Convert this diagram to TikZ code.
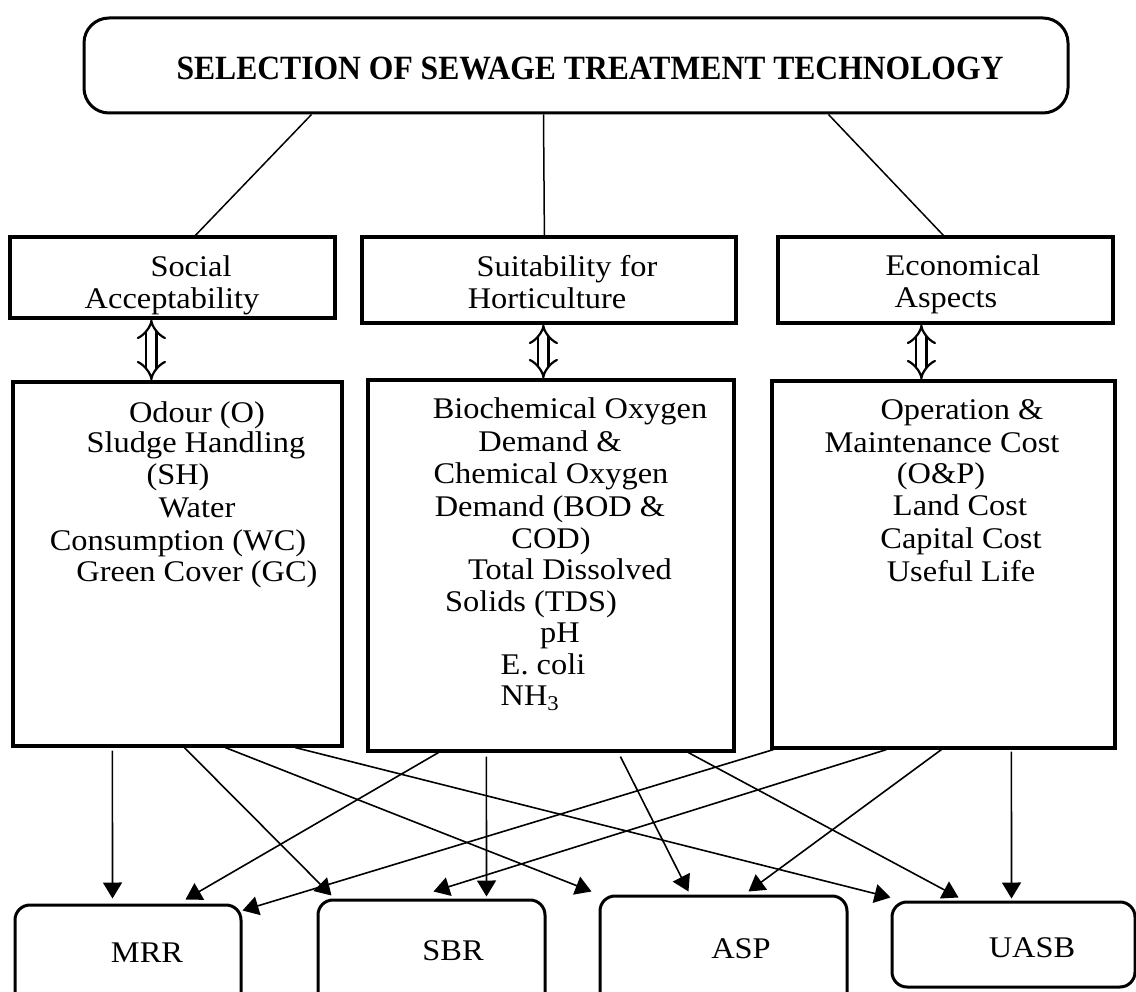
\documentclass[tikz,border=0pt]{standalone}
\usepackage{fontspec}
\setmainfont{Liberation Serif}[FakeStretch=1.08]
\newfontfamily\titlefont{Liberation Serif}[FakeStretch=0.93]
\usetikzlibrary{arrows.meta,calc}
\begin{document}
\begin{tikzpicture}[x=1pt,y=-1pt,
  every node/.style={font=\fontsize{30}{31}\selectfont},
  txt/.style={anchor=base, inner sep=0pt},
  box/.style={draw, line width=3.2pt, inner sep=0pt},
  rbox/.style={box, line width=3pt, rounded corners=15pt},
  link/.style={line width=1.5pt},
  arr/.style={line width=1.6pt, -{Triangle[width=19pt,length=16pt]}},
  dbl/.style={double, double distance=8pt, line width=2.2pt, {Implies[length=14pt,width=30pt]}-{Implies[length=14pt,width=30pt]}}
]
\useasboundingbox (0,0) rectangle (1136,992);
\clip (0,0) rectangle (1136,992);

% top box
\node[box, line width=3pt, rounded corners=25pt, minimum width=984pt, minimum height=95pt] (top) at (576,65.5) {};
\node[txt, font=\titlefont\fontsize{34}{36}\selectfont\bfseries] (title) at (590,79.5) {SELECTION OF SEWAGE TREATMENT TECHNOLOGY};

% category boxes
\node[box, minimum width=325pt, minimum height=81pt] (S) at (172.5,277.5) {};
\node[txt] (s1) at (191,277) {Social};
\node[txt] (s2) at (172,309) {Acceptability};
\node[box, minimum width=374pt, minimum height=86pt] (H) at (549,280) {};
\node[txt] (h1) at (567,277) {Suitability for};
\node[txt] (h2) at (547,309) {Horticulture};
\node[box, minimum width=335pt, minimum height=86pt] (E) at (945.5,280) {};
\node[txt] (e1) at (963,276) {Economical};
\node[txt] (e2) at (946,308) {Aspects};

% criteria boxes
\node[box, minimum width=329pt, minimum height=364pt] (A) at (177.5,564) {};
\node[txt] (a1) at (197,422) {Odour (O)};
\node[txt] (a2) at (196,453) {Sludge Handling};
\node[txt] (a3) at (178,484) {(SH)};
\node[txt] (a4) at (197,517) {Water};
\node[txt] (a5) at (178,550) {Consumption (WC)};
\node[txt] (a6) at (197,581) {Green Cover (GC)};

\node[box, minimum width=366pt, minimum height=371pt] (B) at (551,565.5) {};
\node[txt] (b1) at (570,418) {Biochemical Oxygen};
\node[txt] (b2) at (550,451) {Demand \&};
\node[txt] (b3) at (551,483) {Chemical Oxygen};
\node[txt] (b4) at (550,516) {Demand (BOD \&};
\node[txt] (b5) at (551,548) {COD)};
\node[txt] (b6) at (570,579) {Total Dissolved};
\node[txt] (b7) at (531,611) {Solids (TDS)};
\node[txt] (b8) at (560,642) {pH};
\node[txt] (b9) at (543,674) {E. coli};
\node[txt] (b10) at (530,705) {NH\textsubscript{3}};

\node[box, minimum width=343pt, minimum height=367pt] (C) at (943.5,564.5) {};
\node[txt] (c1) at (962,420) {Operation \&};
\node[txt] (c2) at (942,452) {Maintenance Cost};
\node[txt] (c3) at (941,483) {(O\&P)};
\node[txt] (c4) at (960,515) {Land Cost};
\node[txt] (c5) at (961,548) {Capital Cost};
\node[txt] (c6) at (961,581) {Useful Life};

% technology boxes
\node[rbox, minimum width=226pt, minimum height=105pt] (MRR) at (128,957.5) {};
\node[txt] (mrr) at (147,962) {MRR};
\node[rbox, minimum width=227pt, minimum height=110pt] (SBR) at (431.5,955) {};
\node[txt] (sbr) at (453,960) {SBR};
\node[rbox, minimum width=247pt, minimum height=114pt] (ASP) at (723.5,953) {};
\node[txt] (asp) at (741,958) {ASP};
\node[rbox, minimum width=243pt, minimum height=85pt] (UASB) at (1013.5,944.5) {};
\node[txt] (uasb) at (1032,957) {UASB};

% top links
\draw[link] ([xshift=229pt]top.south west) -- ([xshift=187pt]S.north west);
\draw[link] ([xshift=461pt]top.south west) -- ([xshift=184pt]H.north west);
\draw[link] ([xshift=746pt]top.south west) -- ([xshift=167pt]E.north west);

% double arrows
\draw[dbl] ([xshift=143pt]S.south west) -- ([xshift=140pt]A.north west);
\draw[dbl] ([xshift=183pt]H.south west) -- ([xshift=177pt]B.north west);
\draw[dbl] ([xshift=145pt]E.south west) -- ([xshift=151pt]C.north west);

% arrows from A
\draw[arr] ([xshift=101pt,yshift=-3pt]A.south west) -- ([xshift=99pt,yshift=5pt]MRR.north west);
\draw[arr] ([xshift=173pt]A.south west) -- ([xshift=15pt,yshift=3pt]SBR.north west);
\draw[arr] ([xshift=214pt]A.south west) -- ([xshift=-7pt,yshift=3pt]ASP.north west);
\draw[arr] ([xshift=284pt]A.south west) -- ([yshift=3pt]UASB.north west);
% arrows from B
\draw[arr] ([xshift=72pt]B.south west) -- ([xshift=172pt,yshift=4pt]MRR.north west);
\draw[arr] ([xshift=120pt,yshift=-4pt]B.south west) -- ([xshift=170pt,yshift=2pt]SBR.north west);
\draw[arr] ([xshift=254pt,yshift=-4pt]B.south west) -- ([xshift=90pt,yshift=3pt]ASP.north west);
\draw[arr] ([xshift=322pt]B.south west) -- ([xshift=68pt,yshift=3pt]UASB.north west);
% arrows from C
\draw[arr] ([xshift=3pt]C.south west) -- ([yshift=-7pt]MRR.north east);
\draw[arr] ([xshift=116pt]C.south west) -- ([xshift=117pt,yshift=7pt]SBR.north west);
\draw[arr] ([xshift=171pt]C.south west) -- ([xshift=150pt,yshift=3pt]ASP.north west);
\draw[arr] ([xshift=241pt,yshift=-2pt]C.south west) -- ([xshift=121pt,yshift=2pt]UASB.north west);
\end{tikzpicture}
\end{document}
